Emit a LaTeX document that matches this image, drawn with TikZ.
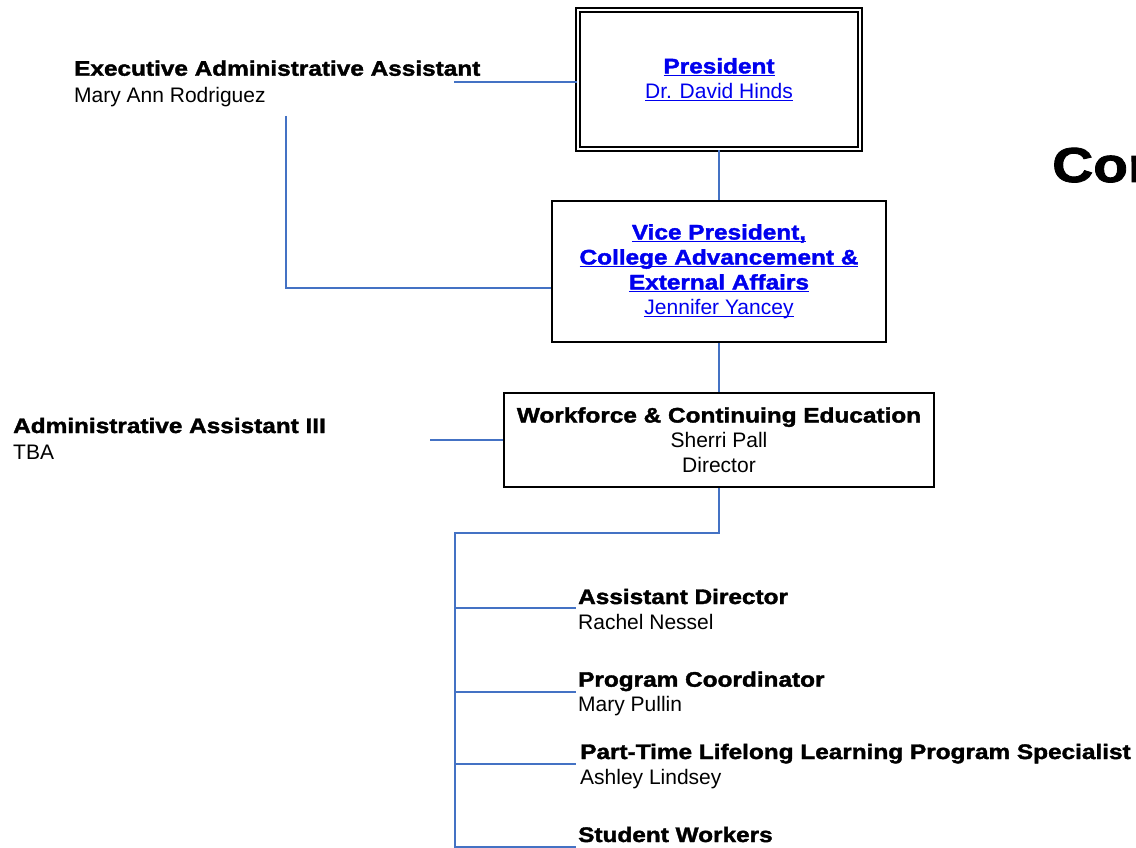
\documentclass[tikz,border=0pt]{standalone}
\usepackage{fontspec}
\setmainfont{Liberation Sans}
\newfontfamily\blkfam{Liberation Sans}[FakeStretch=1.16,BoldFeatures={FakeBold=1.8}]
\definecolor{linec}{HTML}{4472C4}
\definecolor{lnk}{RGB}{0,0,238}
\newcommand\myul[1]{\setbox0=\hbox{#1}\rlap{\rule[-3pt]{\wd0}{1.3pt}}\box0}
\newcommand\bt{\blkfam\bfseries}
\begin{document}
\begin{tikzpicture}[x=1pt,y=-1pt,
  connector/.style={draw=linec, line width=2pt},
  orgbox/.style={draw=black, line width=2pt, fill=white, inner sep=0pt, align=center,
    font=\fontsize{21}{25}\selectfont},
  lbl/.style={anchor=base west, inner sep=0pt, font=\fontsize{21}{25}\selectfont}]
\useasboundingbox (0,0) rectangle (1136,848);
\clip (0,0) rectangle (1136,848);
\fill[white] (0,0) rectangle (1136,848);

% boxes
\node[orgbox, double=white, double distance=2pt, minimum width=282pt, minimum height=139.5pt, text=lnk]
  (pres) at (719,79.75) {{\bt\myul{President}}\\\myul{Dr. David Hinds}};
\node[orgbox, minimum width=334pt, minimum height=141pt, text=lnk]
  (vp) at (719,271.5) {{\bt\myul{Vice President,}}\\{\bt\myul{College Advancement \&}}\\{\bt\myul{External Affairs}}\\\myul{Jennifer Yancey}};
\node[orgbox, minimum width=430pt, minimum height=94pt]
  (wf) at (719,440) {{\bt Workforce \& Continuing Education}\\Sherri Pall\\Director};

% left labels
\node[lbl] (exect) at (74,75.7) {\bt Executive Administrative Assistant};
\node[lbl] (execn) at (74,103) {Mary Ann Rodriguez};
\node[lbl] (admt) at (13,433) {\bt Administrative Assistant III};
\node[lbl] (admn) at (13,459) {TBA};

% lower labels
\node[lbl] (adt) at (578,604) {\bt Assistant Director};
\node[lbl] (adn) at (578,629) {Rachel Nessel};
\node[lbl] (pct) at (578,686.7) {\bt Program Coordinator};
\node[lbl] (pcn) at (578,711.7) {Mary Pullin};
\node[lbl] (ptt) at (580,759) {\bt Part-Time Lifelong Learning Program Specialist};
\node[lbl] (ptn) at (580,784) {Ashley Lindsey};
\node[lbl] (swt) at (578,842) {\bt Student Workers};

% title (cut at the edge, as in the reference)
\node[anchor=base west, inner sep=0pt, font=\fontsize{49}{55}\selectfont] (title) at (1052,182) {\bt Con};

% connectors
\draw[connector] (pres.south) -- (vp.north);
\draw[connector] (vp.south) -- (wf.north);
\coordinate (e1) at (454,82);
\draw[connector] (e1) -- (e1 -| pres.west);
\coordinate (e2) at (286,116);
\coordinate (e3) at (286,287.5);
\draw[connector] (e2) -- (e3) -- (e3 -| vp.west);
\coordinate (a1) at (430,440);
\draw[connector] (a1) -- (wf.west);
\coordinate (b1) at (719,533);
\coordinate (b2) at (455,533);
\coordinate (b3) at (455,848);
\draw[connector] (wf.south) -- (b1) -- (b2) -- (b3);
\coordinate (r1) at (455,607.7);
\coordinate (r2) at (455,692);
\coordinate (r3) at (455,764);
\coordinate (r4) at (455,846.7);
\draw[connector] (r1) -- ++(121,0);
\draw[connector] (r2) -- ++(121,0);
\draw[connector] (r3) -- ++(121,0);
\draw[connector] (r4) -- ++(121,0);
\end{tikzpicture}
\end{document}
